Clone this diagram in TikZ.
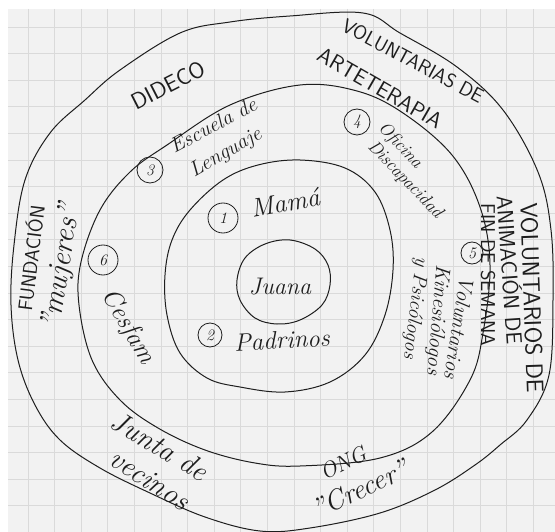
\documentclass[tikz,border=0pt]{standalone}
\definecolor{ink}{HTML}{1E1E1E}
\definecolor{paper}{HTML}{F2F2F2}
\definecolor{gridgray}{HTML}{DADADA}
\newcommand{\inksize}[1]{\fontsize{#1}{#1}\selectfont}
\tikzset{
  x=1pt, y=-1pt, % one unit is one pixel, y runs downwards
  gridline/.style={draw=gridgray, line width=0.7pt}, % the squared paper
  ring/.style={draw=ink, line width=1pt}, % the hand-drawn circles
}

\begin{document}
\begin{tikzpicture}[hand/.style={text=ink, font=\itshape, inner sep=0pt},
  caps/.style={text=ink, font=\sffamily, inner sep=0pt},
  num/.style={draw=ink, circle, line width=0.8pt, inner sep=0pt,
    minimum size=24pt, text=ink, font=\itshape\inksize{16}}]
    \useasboundingbox (0,0) rectangle (555,532);
    % squared paper
    \fill[white] (0,0) rectangle (555,532);
    \fill[paper] (8,9) rectangle (555,532);
    \foreach \gx in {28,54.6,...,550} \draw[gridline] (\gx,9) -- (\gx,532);
    \foreach \gy in {27,53.6,...,530} \draw[gridline] (8,\gy) -- (555,\gy);

    % rings
    \draw[ring] plot[smooth cycle, tension=0.6] coordinates {(180,33)
    (230,22) (290,16) (363,13) (400,33) (457,67) (503,110) (538,172)
    (551,230) (553,300) (549,375) (527,420) (500,445) (475,465) (435,490)
    (380,513) (310,528) (260,531) (205,517) (150,493) (100,468) (60,440)
    (35,405) (18,360) (11,305) (14,245) (25,180) (50,133) (85,100) (120,70)};
    \draw[ring] plot[smooth cycle, tension=0.6] coordinates {(300,85)
    (357,91) (403,113) (452,155) (480,207) (490,265) (483,333) (470,380)
    (432,432) (380,458) (300,466) (255,463) (205,450) (158,428) (120,400)
    (92,360) (79,305) (81,262) (100,210) (130,172) (167,145) (230,105)};
    \draw[ring] plot[smooth cycle, tension=0.6] coordinates {(300,160)
    (345,168) (375,192) (390,230) (393,270) (385,315) (365,355) (330,382)
    (285,392) (240,387) (207,378) (180,353) (167,315) (165,275) (172,240)
    (190,210) (223,180) (258,165)};
    \draw[ring] plot[smooth cycle, tension=0.6] coordinates {(290,240)
    (315,249) (328,265) (330,285) (322,305) (300,320) (277,324) (255,318)
    (240,300) (237,280) (245,258) (265,244)};

    % centre and first ring
    \node[hand] (juana) at (280,287) {\inksize{24}Juana};
    \node[num, minimum size=22pt, minimum height=30pt] (n1) at (223,218) {1};
    \node[hand, rotate=10] (mama) at (285,203) {\inksize{26}Mamá};
    \node[num] (n2) at (210,335) {2};
    \node[hand, rotate=3] (padrinos) at (282,340) {\inksize{25}Padrinos};

    % second ring
    \node[num, minimum size=26pt] (n3) at (150,170) {3};
    \node[hand, rotate=28] (escuela) at (213,125) {\inksize{21}Escuela de};
    \node[hand, rotate=30] (lenguaje) at (226,153) {\inksize{21}Lenguaje};
    \node[num, minimum size=26pt] (n4) at (357,122) {4};
    \node[hand, rotate=-47] (oficina) at (400,146) {\inksize{18}Oficina};
    \node[hand, rotate=-46] (discap) at (405,180) {\inksize{18}Discapacidad};
    \node[num, minimum size=22pt] (n5) at (472,253) {5};
    \node[hand, rotate=-99] (volunt) at (459,328) {\inksize{21}Voluntarios};
    \node[hand, rotate=-95] (kine) at (437,320) {\inksize{21}Kinesiólogos};
    \node[hand, rotate=-97] (psico) at (415,308) {\inksize{20}y Psicólogos};
    \node[num, minimum size=22pt, minimum height=30pt] (n6) at (103,260) {6};
    \node[hand, rotate=-60] (cesfam) at (128,327) {\inksize{26}Cesfam};

    % outer ring
    \node[caps, rotate=27] (dideco) at (168,85) {\inksize{23}DIDECO};
    \node[caps, rotate=-28] (volart) at (413,61) {\inksize{20}VOLUNTARIAS DE};
    \node[caps, rotate=-30] (arte) at (380,88) {\inksize{22}ARTETERAPIA};
    \node[caps, rotate=-88] (volanim) at (532,298) {\inksize{24}VOLUNTARIOS DE};
    \node[caps, rotate=-86] (anim) at (511,270) {\inksize{22}ANIMACIÓN DE};
    \node[caps, rotate=-90] (finde) at (488,275) {\inksize{20}FIN DE SEMANA};
    \node[caps, rotate=83] (fund) at (30,258) {\inksize{20}FUNDACIÓN};
    \node[hand, rotate=81] (mujeres) at (62,267) {\inksize{30}"mujeres"};
    \node[hand, rotate=-31] (junta) at (160,446) {\inksize{29}Junta de};
    \node[hand, rotate=-33] (vecinos) at (150,480) {\inksize{29}vecinos};
    \node[hand, rotate=27] (ong) at (343,463) {\inksize{22}ONG};
    \node[hand, rotate=25] (crecer) at (360,489) {\inksize{28}"Crecer"};
\end{tikzpicture}
\end{document}
